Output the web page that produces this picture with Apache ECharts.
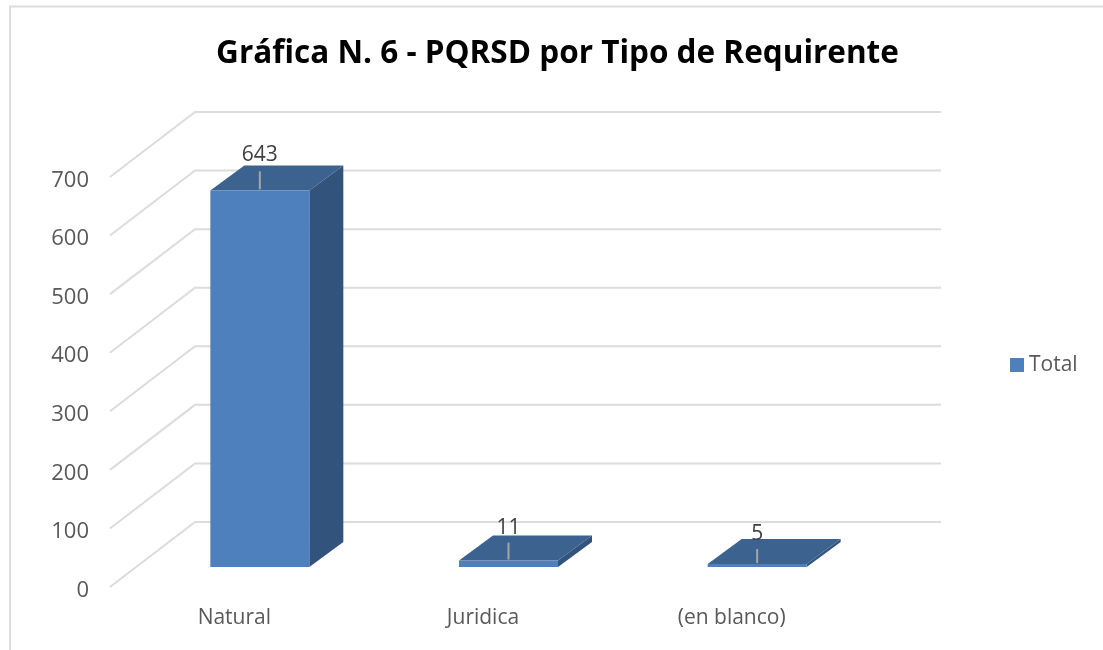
<!DOCTYPE html>
<html>
<head>
<meta charset="utf-8">
<style>
  html, body { margin: 0; padding: 0; background: #fff; }
  #chart { width: 1103px; height: 650px; }
</style>
<script src="https://cdn.jsdelivr.net/npm/echarts@6/dist/echarts.min.js"></script>
</head>
<body>
<div id="chart"></div>
<script>
const titleText = 'Gráfica N. 6 - PQRSD por Tipo de Requirente'
const seriesName = 'Total'
const categories = ['Natural', 'Juridica', '(en blanco)']
const totals = [643, 11, 5]
const wallTicks = [0, 100, 200, 300, 400, 500, 600, 700]

// falso 3D: la pared trasera se desplaza desde el plano frontal del grid
const wallDepth = [85, -65]
const barShift = [25.5, -20]
const barDepth = [34, -25]
const barHalf = 49.5
const leaderLift = [19, 18, 15]
const labelLift = [35, 33, 30]

const fontName = '"Open Sans", sans-serif'
const chart = echarts.init(document.getElementById('chart'))

function renderWall(params, api) {
  const cs = params.coordSys
  const y = api.coord([0, api.value(1)])[1]
  return {
    type: 'polyline',
    shape: {
      points: [
        [cs.x, y],
        [cs.x + wallDepth[0], y + wallDepth[1]],
        [cs.x + cs.width + wallDepth[0], y + wallDepth[1]]
      ]
    },
    style: { stroke: '#dcdcdc', lineWidth: 2, fill: 'none' }
  }
}

function renderBar(params, api) {
  const i = params.dataIndex
  const base = api.coord([i, 0])
  const top = api.coord([i, api.value(1)])
  const cx = base[0] + barShift[0]
  const x0 = cx - barHalf
  const x1 = cx + barHalf
  const yb = base[1] + barShift[1]
  const yt = top[1] + barShift[1]
  const dx = barDepth[0]
  const dy = barDepth[1]
  return {
    type: 'group',
    children: [
      {
        type: 'polygon',
        shape: { points: [[x1, yb], [x1 + dx, yb + dy], [x1 + dx, yt + dy], [x1, yt]] },
        style: { fill: '#32547c' }
      },
      {
        type: 'polygon',
        shape: { points: [[x0, yt], [x0 + dx, yt + dy], [x1 + dx, yt + dy], [x1, yt]] },
        style: { fill: '#3c628f' }
      },
      {
        type: 'rect',
        shape: { x: x0, y: yt, width: x1 - x0, height: yb - yt },
        style: { fill: '#4e80bd' }
      },
      {
        type: 'line',
        shape: { x1: cx, y1: yt - 1, x2: cx, y2: yt - leaderLift[i] },
        style: { stroke: '#a6a6a6', lineWidth: 2 }
      },
      {
        type: 'text',
        style: {
          x: cx,
          y: yt - labelLift[i],
          text: String(api.value(1)),
          fill: '#404040',
          font: '21px ' + fontName,
          align: 'center',
          verticalAlign: 'middle'
        }
      }
    ]
  }
}

chart.setOption({
  animation: false,
  backgroundColor: '#fff',
  title: {
    text: titleText,
    left: 552.5,
    top: 33,
    textAlign: 'center',
    textStyle: { fontFamily: fontName, fontSize: 31.5, fontWeight: 'bold', color: '#000' }
  },
  legend: {
    data: [seriesName],
    left: 1005,
    top: 349.5,
    icon: 'rect',
    itemWidth: 14,
    itemHeight: 14,
    textStyle: { fontFamily: fontName, fontSize: 21, color: '#595959' }
  },
  grid: { left: 110, right: 247, top: 177, bottom: 63 },
  xAxis: {
    type: 'category',
    data: categories,
    axisLine: { show: false },
    axisTick: { show: false },
    axisLabel: { fontFamily: fontName, fontSize: 21, color: '#595959', margin: 21 }
  },
  yAxis: {
    type: 'value',
    min: 0,
    max: 700,
    interval: 100,
    axisLine: { show: false },
    axisTick: { show: false },
    splitLine: { show: false },
    axisLabel: {
      margin: 21,
      formatter: '{t|{value}}',
      rich: {
        t: { fontFamily: fontName, fontSize: 22, color: '#595959', padding: [7, 0, 0, 0] }
      }
    }
  },
  graphic: [
    {
      type: 'polyline',
      silent: true,
      shape: { points: [[10, 650], [10, 6.5], [1103, 6.5]] },
      style: { stroke: '#dcdcdc', lineWidth: 2, fill: 'none' }
    }
  ],
  series: [
    {
      type: 'custom',
      name: 'paredes',
      silent: true,
      z: 1,
      renderItem: renderWall,
      encode: { x: 0, y: 1 },
      data: wallTicks.map(v => [0, v])
    },
    {
      type: 'custom',
      name: seriesName,
      z: 2,
      itemStyle: { color: '#4e80bd' },
      renderItem: renderBar,
      encode: { x: 0, y: 1 },
      data: totals.map((v, i) => [i, v])
    }
  ]
})
</script>
</body>
</html>
